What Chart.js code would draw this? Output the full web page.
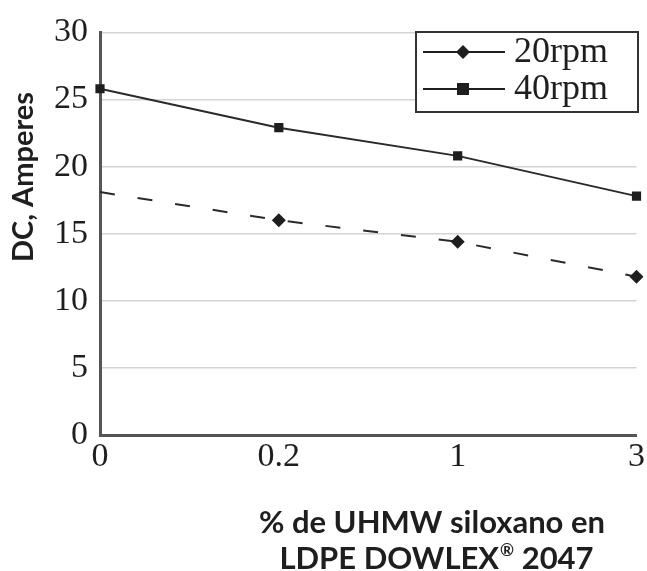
<!DOCTYPE html>
<html>
<head>
<meta charset="utf-8">
<script src="https://cdn.jsdelivr.net/npm/chart.js@4.4.1/dist/chart.umd.min.js"></script>
<style>
  html, body { margin: 0; padding: 0; background: #fff; }
  #wrap { width: 647px; height: 571px; }
</style>
</head>
<body>
<div id="wrap"><canvas id="dcChart" width="647" height="571"></canvas></div>
<script>
// data
const categories = ["0", "0.2", "1", "3"];
const rpm20 = [18.1, 16.0, 14.4, 11.8];
const rpm40 = [25.8, 22.9, 20.8, 17.8];
const yMin = 0, yMax = 30, yStep = 5;

const yTitle = "DC, Amperes";
const xTitle1 = "% de UHMW siloxano en";
const xTitle2 = ["LDPE DOWLEX", "\u00AE", " 2047"];   // middle piece is superscript

const SERIF = "'Liberation Serif', 'DejaVu Serif', serif";
const SANS  = "Lato, 'Open Sans', sans-serif";
const INK   = "#1e1e1e";

// titles drawn by hand (they sit off-centre in the original)
const titlePlugin = {
  id: "titles",
  afterDraw(chart) {
    const ctx = chart.ctx;
    ctx.save();
    ctx.fillStyle = INK;
    ctx.textBaseline = "alphabetic";

    // x title, line 1
    const big = "bold 31px " + SANS, small = "bold 17px " + SANS;
    ctx.font = big;
    ctx.textAlign = "center";
    ctx.fillText(xTitle1, 432, 533);

    // x title, line 2 with superscript (R)
    ctx.textAlign = "left";
    ctx.font = big;
    const wA = ctx.measureText(xTitle2[0]).width;
    const wC = ctx.measureText(xTitle2[2]).width;
    ctx.font = small;
    const wB = ctx.measureText(xTitle2[1]).width;
    let x = 436 - (wA + wB + wC) / 2;
    ctx.font = big;
    ctx.fillText(xTitle2[0], x, 569);
    x += wA;
    ctx.font = small;
    ctx.fillText(xTitle2[1], x + 1, 556);
    x += wB + 1;
    ctx.font = big;
    ctx.fillText(xTitle2[2], x, 569);

    // y title
    ctx.font = "bold 29px " + SANS;
    ctx.textAlign = "center";
    ctx.textBaseline = "middle";
    ctx.translate(24, 177);
    ctx.rotate(-Math.PI / 2);
    ctx.fillText(yTitle, 0, 0);
    ctx.restore();
  }
};

// legend box inside the plot, line + marker like the original
const legendPlugin = {
  id: "boxLegend",
  afterDraw(chart) {
    const ctx = chart.ctx;
    const x0 = 416, y0 = 32, w = 222, h = 80;
    ctx.save();
    ctx.fillStyle = "#fff";
    ctx.fillRect(x0, y0, w, h);
    ctx.strokeStyle = "#333";
    ctx.lineWidth = 2;
    ctx.strokeRect(x0, y0, w, h);

    chart.data.datasets.forEach((ds, i) => {
      const cy = 52 + i * 37;
      ctx.strokeStyle = INK;
      ctx.lineWidth = 2;
      ctx.setLineDash([]);
      ctx.beginPath();
      ctx.moveTo(423, cy);
      ctx.lineTo(505, cy);
      ctx.stroke();
      ctx.fillStyle = INK;
      if (ds.pointStyle === "rectRot") {
        ctx.beginPath();
        ctx.moveTo(463, cy - 7);
        ctx.lineTo(470, cy);
        ctx.lineTo(463, cy + 7);
        ctx.lineTo(456, cy);
        ctx.closePath();
        ctx.fill();
      } else {
        ctx.fillRect(457, cy - 6, 12, 12);
      }
      ctx.font = "36px " + SERIF;
      ctx.textAlign = "left";
      ctx.textBaseline = "middle";
      ctx.fillText(ds.label, 514, cy + 1);
    });
    ctx.restore();
  }
};

const chart = new Chart(document.getElementById("dcChart").getContext("2d"), {
  type: "line",
  data: {
    labels: categories,
    datasets: [
      {
        label: "20rpm",
        data: rpm20,
        borderColor: "#2a2a2a",
        backgroundColor: INK,
        borderWidth: 2,
        borderDash: [15, 23],
        pointStyle: "rectRot",
        pointRadius: [0, 7, 7, 7],
        pointBorderWidth: 0,
        tension: 0,
        fill: false
      },
      {
        label: "40rpm",
        data: rpm40,
        borderColor: "#2a2a2a",
        backgroundColor: INK,
        borderWidth: 2,
        pointStyle: "rect",
        pointRadius: 6.5,
        pointBorderWidth: 0,
        tension: 0,
        fill: false
      }
    ]
  },
  options: {
    responsive: false,
    animation: false,
    devicePixelRatio: 1,
    layout: { padding: { top: 32, right: 6, bottom: 0, left: 2 } },
    plugins: {
      legend: { display: false },
      tooltip: { enabled: false }
    },
    scales: {
      x: {
        type: "category",
        offset: false,
        grid: { display: false, drawTicks: false },
        border: { display: true, color: "#555", width: 3 },
        ticks: { color: INK, font: { family: SERIF, size: 34 }, padding: 2, maxRotation: 0 },
        afterFit(scale) { scale.height = 136; }
      },
      y: {
        min: yMin,
        max: yMax,
        grid: { color: "#d4d4d4", lineWidth: 1.5, drawTicks: false },
        border: { display: true, color: "#555", width: 3 },
        ticks: { stepSize: yStep, color: INK, font: { family: SERIF, size: 34 }, padding: 12 },
        afterFit(scale) { scale.width = 98; }
      }
    }
  },
  plugins: [titlePlugin, legendPlugin]
});
</script>
</body>
</html>
